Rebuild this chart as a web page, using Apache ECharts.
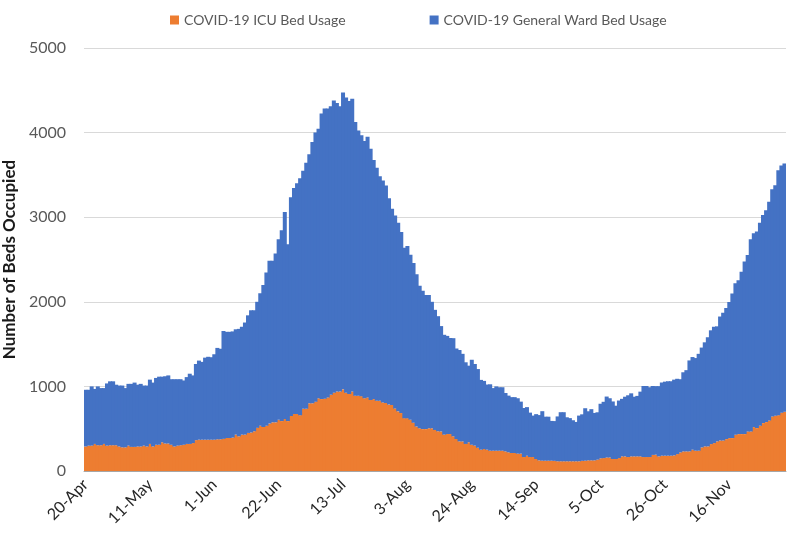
<!DOCTYPE html>
<html>
<head>
<meta charset="utf-8">
<script src="https://cdn.jsdelivr.net/npm/echarts@6/dist/echarts.min.js"></script>
<style>
  html, body { margin: 0; padding: 0; background: #fff; }
  #chart { width: 788px; height: 535px; }
</style>
</head>
<body>
<div id="chart"></div>
<script>
// daily data, 20-Apr .. 4-Dec
const startDay = '2020-04-20';
const dayCount = 229;
const tickLabels = ['20-Apr', '11-May', '1-Jun', '22-Jun', '13-Jul', '3-Aug', '24-Aug', '14-Sep', '5-Oct', '26-Oct', '16-Nov'];

const icuBeds = [
  290, 300, 300, 320, 305, 305, 320, 300, 305, 305,
  305, 290, 280, 280, 300, 285, 285, 290, 290, 300,
  290, 320, 290, 310, 310, 340, 325, 325, 310, 290,
  300, 305, 310, 320, 320, 330, 365, 370, 370, 370,
  370, 370, 370, 375, 375, 380, 390, 390, 395, 430,
  410, 430, 430, 450, 455, 470, 510, 535, 520, 535,
  560, 575, 575, 605, 590, 615, 590, 650, 675, 675,
  660, 735, 735, 800, 800, 820, 860, 850, 855, 870,
  900, 925, 940, 940, 965, 925, 910, 940, 890, 890,
  885, 860, 870, 840, 850, 830, 830, 810, 805, 785,
  780, 740, 705, 685, 625, 625, 605, 570, 525, 505,
  495, 495, 505, 505, 485, 470, 468, 430, 437, 437,
  410, 378, 350, 350, 320, 340, 310, 300, 275, 252,
  260, 252, 240, 240, 240, 240, 240, 232, 221, 213,
  213, 205, 205, 165, 180, 165, 165, 142, 126, 122,
  122, 122, 122, 120, 115, 115, 115, 115, 115, 115,
  115, 115, 120, 122, 126, 126, 126, 134, 150, 153,
  160, 160, 142, 142, 153, 173, 173, 165, 173, 173,
  173, 173, 165, 165, 165, 190, 193, 173, 181, 181,
  181, 181, 185, 200, 220, 232, 232, 232, 252, 240,
  240, 279, 291, 291, 318, 330, 350, 361, 361, 377,
  389, 389, 428, 436, 436, 436, 468, 468, 519, 507,
  535, 566, 578, 598, 645, 653, 660, 690, 700
];

const wardBeds = [
  670, 660, 700, 650, 695, 675, 660, 735, 755, 755,
  715, 720, 730, 700, 730, 745, 760, 730, 740, 710,
  720, 760, 755, 790, 805, 775, 795, 805, 775, 795,
  785, 780, 760, 790, 830, 800, 900, 935, 920, 970,
  980, 975, 1010, 1080, 1070, 1275, 1255, 1255, 1255, 1245,
  1270, 1275, 1325, 1390, 1445, 1430, 1490, 1565, 1680, 1810,
  1925, 1910, 1995, 2135, 2255, 2445, 2090, 2585, 2670, 2725,
  2800, 2815, 2910, 2945, 3090, 3180, 3185, 3375, 3430, 3415,
  3410, 3455, 3410, 3370, 3510, 3490, 3465, 3460, 3235, 3135,
  3085, 3040, 3080, 2970, 2825, 2755, 2655, 2625, 2570, 2440,
  2320, 2280, 2230, 2140, 2015, 2035, 1950, 1890, 1800, 1685,
  1635, 1585, 1575, 1495, 1420, 1360, 1245, 1180, 1160, 1135,
  1160, 1070, 1080, 1035, 965, 905, 1005, 965, 930, 825,
  805, 770, 785, 740, 760, 750, 750, 690, 670, 660,
  660, 655, 615, 580, 575, 525, 490, 530, 535, 585,
  520, 520, 470, 470, 530, 580, 580, 520, 510, 485,
  465, 540, 550, 620, 580, 605, 560, 560, 645, 665,
  720, 700, 680, 630, 680, 680, 705, 730, 745, 705,
  715, 765, 840, 840, 825, 815, 810, 830, 865, 875,
  880, 880, 895, 890, 865, 935, 960, 1075, 1095, 1095,
  1145, 1180, 1230, 1290, 1345, 1375, 1360, 1465, 1510, 1550,
  1610, 1710, 1790, 1820, 1920, 2040, 2085, 2270, 2290, 2325,
  2400, 2460, 2505, 2585, 2685, 2725, 2895, 2920, 2935
];

const months = ['Jan', 'Feb', 'Mar', 'Apr', 'May', 'Jun', 'Jul', 'Aug', 'Sep', 'Oct', 'Nov', 'Dec'];
const days = [];
const d0 = new Date(startDay + 'T00:00:00Z');
for (let i = 0; i < dayCount; i++) {
  const d = new Date(d0.getTime() + i * 86400000);
  days.push(d.getUTCDate() + '-' + months[d.getUTCMonth()]);
}

const textGray = '#595959';
const fontName = 'Lato';
const orange = '#ED7D31';
const blue = '#4472C4';

const chart = echarts.init(document.getElementById('chart'));
chart.setOption({
  animation: false,
  textStyle: { fontFamily: fontName },
  legend: {
    top: 8,
    left: 165,
    icon: 'rect',
    itemWidth: 9,
    itemHeight: 9,
    itemGap: 84,
    textStyle: { fontSize: 14, color: textGray, fontFamily: fontName }
  },
  grid: { left: 84, right: 2, top: 48, bottom: 64, outerBoundsMode: 'none', containLabel: false },
  xAxis: {
    type: 'category',
    data: days,
    boundaryGap: true,
    axisLine: { lineStyle: { color: '#a6a6a6', width: 1 } },
    axisTick: {
      lineStyle: { color: '#a6a6a6' },
      length: 5,
      interval: (i, v) => tickLabels.includes(v)
    },
    axisLabel: {
      rotate: 45,
      margin: 11,
      fontSize: 16,
      color: '#262626',
      fontFamily: fontName,
      interval: (i, v) => tickLabels.includes(v)
    }
  },
  yAxis: {
    type: 'value',
    min: 0,
    max: 5000,
    interval: 1000,
    name: 'Number of Beds Occupied',
    nameLocation: 'middle',
    nameGap: 62,
    nameTextStyle: { fontSize: 17, fontWeight: 'bold', color: '#1a1a1a', fontFamily: fontName },
    axisLine: { show: false },
    axisTick: { show: false },
    axisLabel: { fontSize: 16, color: textGray, margin: 18, fontFamily: fontName, formatter: v => String(v) },
    splitLine: { lineStyle: { color: '#d9d9d9', width: 1 } }
  },
  series: [
    {
      name: 'COVID-19 ICU Bed Usage',
      type: 'bar',
      stack: 'beds',
      data: icuBeds,
      barWidth: 4,
      itemStyle: { color: orange }
    },
    {
      name: 'COVID-19 General Ward Bed Usage',
      type: 'bar',
      stack: 'beds',
      data: wardBeds,
      barWidth: 4,
      itemStyle: { color: blue }
    }
  ]
});
</script>
</body>
</html>
